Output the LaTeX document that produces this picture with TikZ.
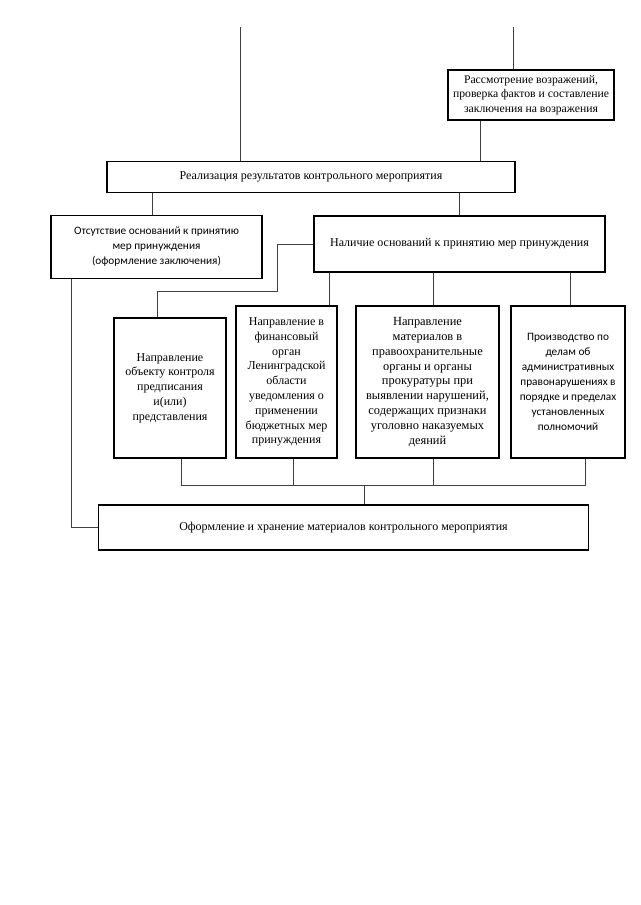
\documentclass[tikz,border=0pt]{standalone}
\usepackage{fontspec}
\setmainfont{Liberation Serif}
\newfontfamily\calib{Carlito}
\begin{document}
\begin{tikzpicture}[x=1pt,y=-1pt,
  box/.style={draw=black,line width=1.7pt,align=center,inner sep=2pt,font=\fontsize{12}{14.8}\selectfont},
  sbox/.style={box,font=\calib\fontsize{11.3}{15}\selectfont},
  conn/.style={draw=black!75,line width=0.9pt}]
\useasboundingbox (0,0) rectangle (640,905);
\fill[white] (0,0) rectangle (640,905);
\node[box,minimum width=166,minimum height=50,font=\fontsize{11.7}{14.5}\selectfont] (rass) at (531,95)
  {Рассмотрение возражений,\\ проверка фактов и составление\\ заключения на возражения};
\node[box,minimum width=408,minimum height=31] (real) at (311,177)
  {Реализация результатов контрольного мероприятия};
\node[sbox,minimum width=211,minimum height=63] (ots) at (156.5,247)
  {Отсутствие оснований к принятию\\ мер принуждения\\ (оформление заключения)};
\node[box,minimum width=291,minimum height=56] (nal) at (459.5,244)
  {Наличие оснований к принятию мер принуждения};
\node[box,minimum width=112,minimum height=140] (b1) at (170,388)
  {Направление\\ объекту контроля\\ предписания\\ и(или)\\ представления};
\node[box,minimum width=101,minimum height=152] (b2) at (286.5,382)
  {Направление в\\ финансовый\\ орган\\ Ленинградской\\ области\\ уведомления о\\ применении\\ бюджетных мер\\ принуждения};
\node[box,minimum width=143,minimum height=152,font=\fontsize{12.4}{14.8}\selectfont] (b3) at (427.5,382)
  {Направление\\ материалов в\\ правоохранительные\\ органы и органы\\ прокуратуры при\\ выявлении нарушений,\\ содержащих признаки\\ уголовно наказуемых\\ деяний};
\node[sbox,minimum width=114,minimum height=152] (b4) at (568,382)
  {Производство по\\ делам об\\ административных\\ правонарушениях в\\ порядке и пределах\\ установленных\\ полномочий};
\node[box,minimum width=490,minimum height=45] (fin) at (343.5,527.5)
  {Оформление и хранение материалов контрольного мероприятия};
% coordinates
\coordinate (t1) at (240,27);
\coordinate (t2) at (513,27);
\coordinate (xr) at (480,0);
\coordinate (xo) at (152,0);
\coordinate (xn) at (459,0);
\coordinate (k1) at (277,0);
\coordinate (k2) at (157,291);
\coordinate (x2) at (329,0);
\coordinate (x3) at (433,0);
\coordinate (x4) at (570,0);
\coordinate (bb) at (0,485);
\coordinate (y1) at (181,0);
\coordinate (y2) at (293,0);
\coordinate (y3) at (433,0);
\coordinate (y4) at (585,0);
\coordinate (ym) at (364,0);
\coordinate (xf) at (71,0);
% connectors
\draw[conn] (t1) -- (t1 |- real.north);
\draw[conn] (t2) -- (t2 |- rass.north);
\draw[conn] (xr |- rass.south) -- (xr |- real.north);
\draw[conn] (xo |- real.south) -- (xo |- ots.north);
\draw[conn] (xn |- real.south) -- (xn |- nal.north);
\draw[conn] (nal.west) -- (k1 |- nal.west) -- (k1 |- k2) -- (k2) -- (k2 |- b1.north);
\draw[conn] (x2 |- nal.south) -- (x2 |- b2.north);
\draw[conn] (x3 |- nal.south) -- (x3 |- b3.north);
\draw[conn] (x4 |- nal.south) -- (x4 |- b4.north);
\draw[conn] (y1 |- b1.south) -- (y1 |- bb) -- (y4 |- bb) -- (y4 |- b4.south);
\draw[conn] (y2 |- b2.south) -- (y2 |- bb);
\draw[conn] (y3 |- b3.south) -- (y3 |- bb);
\draw[conn] (ym |- bb) -- (ym |- fin.north);
\draw[conn] (xf |- ots.south) -- (xf |- fin.west) -- (fin.west);
\end{tikzpicture}
\end{document}
